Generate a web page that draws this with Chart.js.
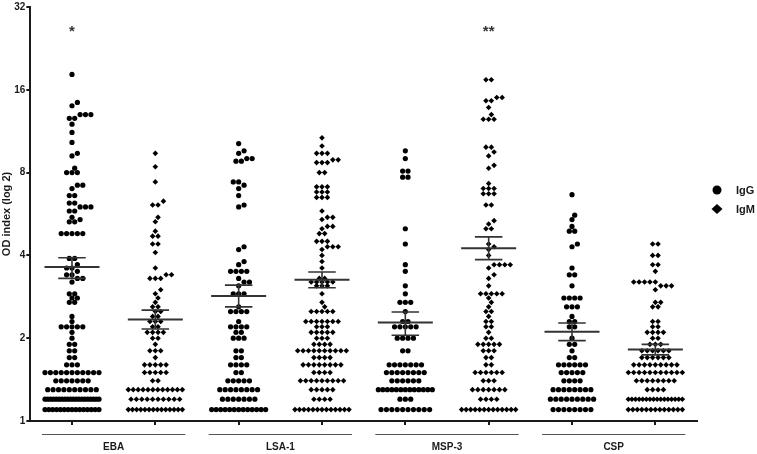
<!DOCTYPE html>
<html><head><meta charset="utf-8">
<script src="https://cdn.jsdelivr.net/npm/chart.js@4/dist/chart.umd.min.js"></script>
<style>html,body{margin:0;padding:0;background:#fff}#wrap{width:757px;height:454px;position:relative}</style>
</head><body><div id="wrap"><canvas id="c"></canvas></div>
<script>
// ---- data (value, number of subjects at that value) ----
const groups = ['EBA', 'LSA-1', 'MSP-3', 'CSP'];
const isotypes = ['IgG', 'IgM'];
const yTicks = [1, 2, 4, 8, 16, 32];

const ebaIgG = [[1.1,15],[1.2,20],[1.3,10],[1.4,7],[1.5,11],[1.6,3],[1.7,2],[1.8,2],[1.9,2],[2.0,1],[2.1,1],[2.2,5],[2.3,1],[2.4,1],[2.7,2],[2.8,2],[2.9,2],[3.2,1],[3.3,2],[3.4,2],[3.5,1],[3.6,2],[3.7,1],[3.9,2],[4.8,5],[5.3,2],[5.4,1],[5.5,1],[5.8,2],[6.0,3],[6.2,2],[6.6,2],[7.0,1],[7.2,2],[8.0,3],[8.3,1],[9.2,1],[9.4,1],[10.3,1],[11.2,1],[12.0,1],[12.6,2],[13.0,3],[14.0,1],[14.4,1],[18.2,1]];
const ebaIgM = [[1.1,14],[1.2,10],[1.3,12],[1.4,2],[1.5,5],[1.6,5],[1.7,1],[1.8,3],[1.9,1],[2.0,2],[2.1,4],[2.2,2],[2.3,3],[2.4,2],[2.5,2],[2.6,2],[2.7,1],[2.8,1],[2.9,1],[3.0,1],[3.3,3],[3.4,2],[3.6,1],[4.1,1],[4.4,2],[4.7,2],[4.9,1],[5.3,1],[5.5,1],[6.1,2],[6.3,1],[7.4,1],[8.4,1],[9.4,1]];
const lsaIgG = [[1.1,13],[1.2,7],[1.3,8],[1.4,5],[1.5,2],[1.6,4],[1.7,2],[1.8,2],[2.0,3],[2.1,2],[2.2,4],[2.3,1],[2.5,4],[2.6,1],[2.9,3],[3.1,1],[3.2,2],[3.3,1],[3.5,4],[3.7,1],[3.8,1],[4.2,1],[4.3,1],[6.0,1],[6.1,1],[6.6,1],[7.0,1],[7.2,1],[7.4,2],[8.8,2],[9.0,2],[9.4,1],[9.6,1],[10.2,1]];
const lsaIgM = [[1.1,13],[1.2,4],[1.3,5],[1.4,9],[1.5,4],[1.6,8],[1.7,4],[1.8,10],[1.9,4],[2.0,3],[2.1,5],[2.2,3],[2.3,7],[2.5,5],[2.6,1],[2.7,1],[2.9,1],[3.1,3],[3.2,5],[3.3,2],[3.6,1],[3.8,1],[4.0,1],[4.2,1],[4.3,3],[4.5,3],[4.8,2],[5.0,1],[5.1,2],[5.4,1],[5.5,2],[5.8,1],[6.5,3],[6.8,3],[7.1,3],[8.0,2],[8.7,3],[8.9,2],[9.4,3],[10.0,1],[10.7,1]];
const mspIgG = [[1.1,10],[1.2,3],[1.3,13],[1.4,6],[1.5,8],[1.6,7],[1.8,2],[2.0,4],[2.2,5],[2.3,2],[2.5,1],[2.7,3],[2.9,1],[3.1,1],[3.5,1],[3.7,1],[4.4,1],[5.0,1],[7.7,2],[8.1,2],[9.0,1],[9.6,1]];
const mspIgM = [[1.1,13],[1.2,4],[1.3,7],[1.4,3],[1.5,6],[1.6,2],[1.7,2],[1.8,3],[1.9,5],[2.0,2],[2.1,1],[2.2,2],[2.3,2],[2.4,1],[2.5,2],[2.6,1],[2.7,1],[2.8,1],[2.9,5],[3.1,1],[3.3,1],[3.4,1],[3.6,1],[3.7,4],[4.0,1],[4.2,1],[4.3,1],[4.4,1],[5.0,2],[5.2,1],[5.35,1],[6.1,2],[6.7,3],[7.0,3],[7.3,1],[8.3,1],[8.5,1],[9.2,1],[9.5,1],[9.9,2],[12.5,3],[13.0,1],[13.8,1],[14.6,2],[15.0,2],[17.4,2]];
const cspIgG = [[1.1,8],[1.2,9],[1.3,8],[1.4,4],[1.5,5],[1.6,6],[1.7,2],[1.8,1],[1.9,2],[2.0,1],[2.2,2],[2.3,2],[2.4,1],[2.6,3],[2.8,4],[3.1,1],[3.4,2],[3.6,1],[4.3,1],[4.4,1],[4.9,2],[5.1,1],[5.4,1],[5.6,1],[6.65,1]];
const cspIgM = [[1.1,13],[1.2,16],[1.3,4],[1.4,8],[1.5,11],[1.6,9],[1.7,6],[1.8,6],[1.9,3],[2.0,2],[2.1,4],[2.2,2],[2.3,2],[2.6,2],[2.7,2],[3.0,1],[3.1,3],[3.2,5],[3.5,1],[3.7,2],[4.0,2],[4.4,2]];

const columns = [ebaIgG, ebaIgM, lsaIgG, lsaIgM, mspIgG, mspIgM, cspIgG, cspIgM];
const means   = [3.63, 2.34, 2.85, 3.26, 2.28, 4.25, 2.11, 1.82];
const semHigh = [3.92, 2.53, 3.12, 3.48, 2.49, 4.67, 2.27, 1.90];
const semLow  = [3.30, 2.16, 2.60, 3.05, 2.05, 3.86, 1.96, 1.74];
const significance = ['*', '', '', '', '', '**', '', ''];

const FONT = '"Liberation Sans", Arial, sans-serif';
const INK = '#1a1a1a';

const overlay = {
  id: 'overlay',
  afterDatasetsDraw(chart) {
    const {ctx, chartArea: a, scales: {x, y}} = chart;
    const unit = x.getPixelForValue(1) - x.getPixelForValue(0);
    ctx.save();
    ctx.strokeStyle = '#333';
    means.forEach((m, i) => {
      const cx = x.getPixelForValue(i + 0.5);
      const ym = y.getPixelForValue(m), yh = y.getPixelForValue(semHigh[i]), yl = y.getPixelForValue(semLow[i]);
      ctx.lineWidth = 2;
      ctx.beginPath(); ctx.moveTo(cx - 0.33 * unit, ym); ctx.lineTo(cx + 0.33 * unit, ym); ctx.stroke();
      ctx.lineWidth = 1.6;
      ctx.beginPath();
      ctx.moveTo(cx - 0.165 * unit, yh); ctx.lineTo(cx + 0.165 * unit, yh);
      ctx.moveTo(cx - 0.165 * unit, yl); ctx.lineTo(cx + 0.165 * unit, yl);
      ctx.moveTo(cx, yh); ctx.lineTo(cx, yl);
      ctx.stroke();
    });
    ctx.fillStyle = '#333';
    ctx.font = 'bold 15px ' + FONT;
    ctx.textAlign = 'center'; ctx.textBaseline = 'alphabetic';
    significance.forEach((s, i) => {
      if (s) ctx.fillText(s, x.getPixelForValue(i + 0.5), a.top + 29);
    });
    ctx.restore();
  },
  afterDraw(chart) {
    const {ctx, chartArea: a, scales: {x}} = chart;
    ctx.save();
    ctx.strokeStyle = '#555'; ctx.lineWidth = 1;
    ctx.fillStyle = INK;
    ctx.font = 'bold 10px ' + FONT;
    ctx.textAlign = 'center'; ctx.textBaseline = 'middle';
    groups.forEach((g, gi) => {
      const x1 = x.getPixelForValue(2 * gi + 0.14), x2 = x.getPixelForValue(2 * gi + 1.86);
      const ly = a.bottom + 13.5;
      ctx.beginPath(); ctx.moveTo(x1, ly); ctx.lineTo(x2, ly); ctx.stroke();
      ctx.fillText(g, (x1 + x2) / 2, a.bottom + 26);
    });
    const lx = a.right + 20, ly0 = (a.top + a.bottom) / 2 - 24;
    ctx.font = 'bold 11px ' + FONT;
    ctx.textAlign = 'left';
    isotypes.forEach((name, k) => {
      const yy = ly0 + k * 19;
      ctx.fillStyle = '#000';
      ctx.beginPath();
      if (k === 0) { ctx.arc(lx, yy, 4.5, 0, Math.PI * 2); }
      else { ctx.moveTo(lx, yy - 5); ctx.lineTo(lx + 5.5, yy); ctx.lineTo(lx, yy + 5); ctx.lineTo(lx - 5.5, yy); ctx.closePath(); }
      ctx.fill();
      ctx.fillStyle = INK;
      ctx.fillText(name, lx + 19, yy + 0.5);
    });
    ctx.restore();
  }
};

const chart = new Chart(document.getElementById('c'), {
  type: 'scatter',
  data: {
    datasets: [
      { label: 'IgG', data: [], pointStyle: 'circle', pointRadius: 2.6, pointHoverRadius: 2.6,
        backgroundColor: '#000', borderColor: '#000', borderWidth: 0, clip: false },
      { label: 'IgM', data: [], pointStyle: 'rectRot', pointRadius: 2.8, pointHoverRadius: 2.8,
        backgroundColor: '#000', borderColor: '#000', borderWidth: 0, clip: false }
    ]
  },
  options: {
    responsive: true, maintainAspectRatio: false, animation: false,
    layout: { padding: { top: 0, right: 60, bottom: 29, left: 0 } },
    plugins: { legend: { display: false }, tooltip: { enabled: false } },
    scales: {
      x: {
        type: 'linear', min: 0, max: 8,
        afterBuildTicks: s => { s.ticks = [0,1,2,3,4,5,6,7].map(i => ({ value: i + 0.5 })); },
        ticks: { display: false },
        grid: { drawOnChartArea: false, drawTicks: true, tickLength: 4, color: INK, lineWidth: 2 },
        border: { color: INK, width: 2 }
      },
      y: {
        type: 'logarithmic', min: 1, max: 32,
        afterBuildTicks: s => { s.ticks = yTicks.map(v => ({ value: v })); },
        ticks: { callback: v => String(v), color: INK, padding: 1, autoSkip: false,
                 font: { family: FONT, weight: 'bold', size: 10 } },
        grid: { drawOnChartArea: false, drawTicks: true, tickLength: 4, color: INK, lineWidth: 2 },
        border: { color: INK, width: 2 },
        title: { display: true, text: 'OD index (log 2)', color: INK, padding: { top: 0, bottom: 0 },
                 font: { family: FONT, weight: 'bold', size: 11 } }
      }
    }
  },
  plugins: [overlay]
});

// beeswarm placement of the dots, computed from the values through the chart's scales
function swarm() {
  const xs = chart.scales.x, ys = chart.scales.y;
  const ppu = xs.getPixelForValue(1) - xs.getPixelForValue(0);
  const SP = 5.4, MAXW = 54, D = 4.9;
  const out = [[], []];
  columns.forEach((col, ci) => {
    const placed = [];
    col.slice().sort((a, b) => a[0] - b[0]).forEach(([v, n]) => {
      const py = ys.getPixelForValue(v);
      const s = n > 1 ? Math.min(SP, MAXW / (n - 1)) : SP;
      const base = [];
      for (let i = 0; i < n; i++) base.push((i - (n - 1) / 2) * s);
      const shifts = [0, s / 2, -s / 2, s, -s, 1.5 * s, -1.5 * s, 2 * s, -2 * s, 2.5 * s, -2.5 * s, 3 * s, -3 * s];
      let chosen = 0;
      for (const sh of shifts) {
        if (base.every(bx => placed.every(p => Math.hypot(p.x - (bx + sh), p.y - py) >= D))) { chosen = sh; break; }
      }
      base.forEach(bx => {
        placed.push({ x: bx + chosen, y: py });
        out[ci % 2].push({ x: ci + 0.5 + (bx + chosen) / ppu, y: v });
      });
    });
  });
  chart.data.datasets[0].data = out[0];
  chart.data.datasets[1].data = out[1];
  chart.update('none');
}
swarm();
</script>
</body></html>
